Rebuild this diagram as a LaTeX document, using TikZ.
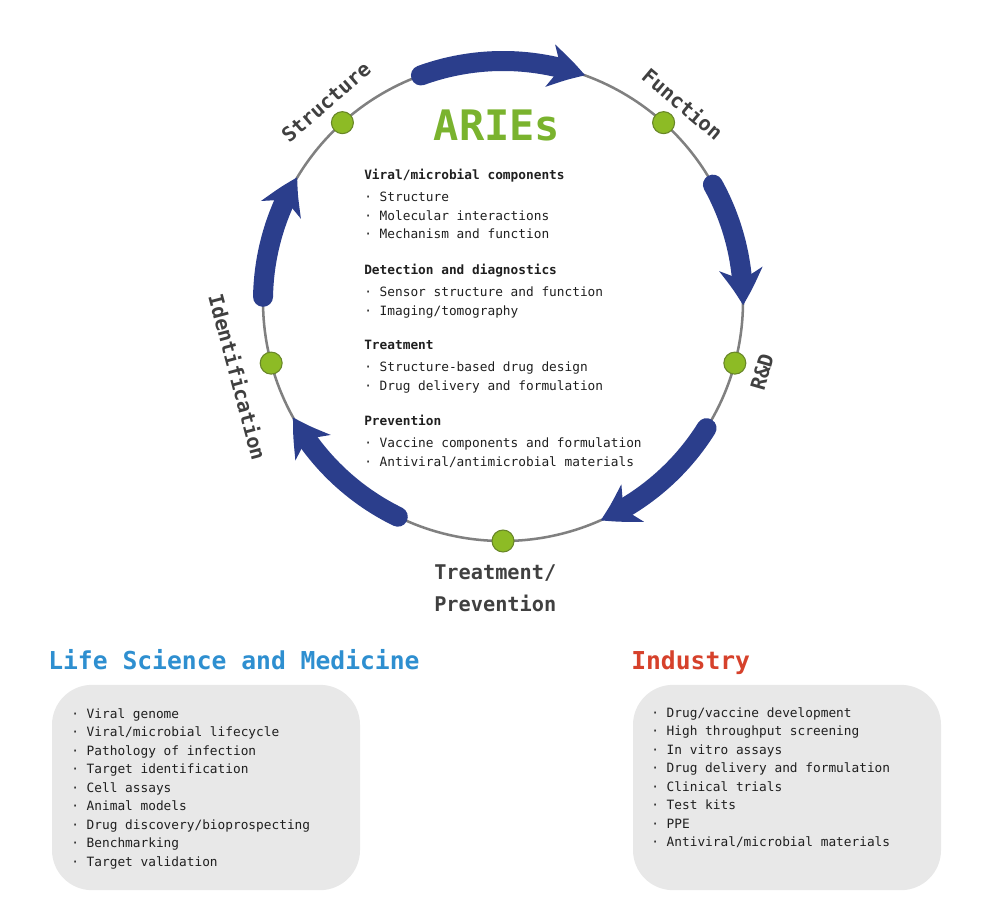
\documentclass[tikz,border=0pt]{standalone}
\usepackage{fontspec}
\setmainfont{DejaVu Sans Mono}
\setmonofont{DejaVu Sans Mono}
\usetikzlibrary{arrows.meta,bending,positioning}
\definecolor{cycleBlue}{RGB}{43,62,140}
\definecolor{ariesGreen}{RGB}{122,179,46}
\definecolor{dotGreen}{RGB}{141,187,37}
\definecolor{dotEdge}{RGB}{104,134,40}
\definecolor{lifeBlue}{RGB}{46,143,208}
\definecolor{industryRed}{RGB}{214,65,43}
\definecolor{boxGrey}{RGB}{232,232,232}
\definecolor{labelGrey}{RGB}{64,64,64}
\definecolor{ringGrey}{RGB}{128,128,128}

\begin{document}
\begin{tikzpicture}[x=0.75pt,y=0.75pt,
  cyc/.style={line width=15pt, cycleBlue, line cap=round,
    -{Stealth[length=27pt,width=32pt,inset=8pt,bend]}},
  stage/.style={circle, fill=dotGreen, draw=dotEdge, line width=0.8pt,
    minimum size=16.5pt, inner sep=0pt},
  stagelabel/.style={font=\fontsize{15.2}{24}\selectfont\bfseries, text=labelGrey, inner sep=0pt},
  body/.style={font=\fontsize{9.6}{13.9}\selectfont, align=left, text=black!88,
    anchor=north west, inner sep=0pt},
  listbox/.style={fill=boxGrey, rounded corners=30pt, minimum width=231pt,
    minimum height=154pt, inner sep=0pt},
  title/.style={font=\fontsize{18.5}{22}\selectfont\bfseries, anchor=base west, inner sep=0pt}]
  \useasboundingbox (0,0) rectangle (994,922);

  % Cycle
  \coordinate (c) at (503,621);
  \draw[ringGrey, line width=1.9pt] (c) circle[radius=240];
  \draw[cyc] ([shift={(110:240)}]c) arc[start angle=110, end angle=70, radius=240];
  \draw[cyc] ([shift={(29:240)}]c) arc[start angle=29, end angle=-1, radius=240];
  \draw[cyc] ([shift={(-32:240)}]c) arc[start angle=-32, end angle=-66, radius=240];
  \draw[cyc] ([shift={(-116:240)}]c) arc[start angle=-116, end angle=-151, radius=240];
  \draw[cyc] ([shift={(179:240)}]c) arc[start angle=179, end angle=149, radius=240];
  \foreach \a/\n in {132/struct,48/func,-15/rd,-90/treat,-165/ident}
    \node[stage] (\n) at ([shift={(\a:240)}]c) {};

  % Stage labels
  \node[stagelabel, rotate=41] (structlbl) at (326,820) {Structure};
  \node[stagelabel, rotate=-40] (funclbl) at (683,818) {Function};
  \node[stagelabel, rotate=74] (rdlbl) at (762,550) {R\&D};
  \node[stagelabel, rotate=-75] (identlbl) at (238,545) {Identification};
  \node[stagelabel, align=left, anchor=west] (treatlbl) at (434,334) {Treatment/\\Prevention};

  % ARIEs
  \node[font=\fontsize{31.5}{36}\selectfont\bfseries, text=ariesGreen] (aries) at (497,797) {ARIEs};
  \node[body] (viral) at (364,753) {\textbf{Viral/microbial components}\\[2.6pt]
    · Structure\\ · Molecular interactions\\ · Mechanism and function};
  \node[body] (detect) at (364,658) {\textbf{Detection and diagnostics}\\[2.6pt]
    · Sensor structure and function\\ · Imaging/tomography};
  \node[body] (treatment) at (364,582) {\textbf{Treatment}\\[2.6pt]
    · Structure-based drug design\\ · Drug delivery and formulation};
  \node[body] (prevent) at (364,507) {\textbf{Prevention}\\[2.6pt]
    · Vaccine components and formulation\\ · Antiviral/antimicrobial materials};

  % Life Science and Medicine
  \node[title, text=lifeBlue] (lifetitle) at (48,253) {Life Science and Medicine};
  \node[listbox] (lifebox) at (206,134.5) {};
  \node[body] (lifelist) at (71,214) {· Viral genome\\ · Viral/microbial lifecycle\\
    · Pathology of infection\\ · Target identification\\ · Cell assays\\
    · Animal models\\ · Drug discovery/bioprospecting\\ · Benchmarking\\
    · Target validation};

  % Industry
  \node[title, text=industryRed] (indtitle) at (631,253) {Industry};
  \node[listbox] (indbox) at (787,134.5) {};
  \node[body] (indlist) at (651,215) {· Drug/vaccine development\\ · High throughput screening\\
    · In vitro assays\\ · Drug delivery and formulation\\ · Clinical trials\\
    · Test kits\\ · PPE\\ · Antiviral/microbial materials};
\end{tikzpicture}
\end{document}
